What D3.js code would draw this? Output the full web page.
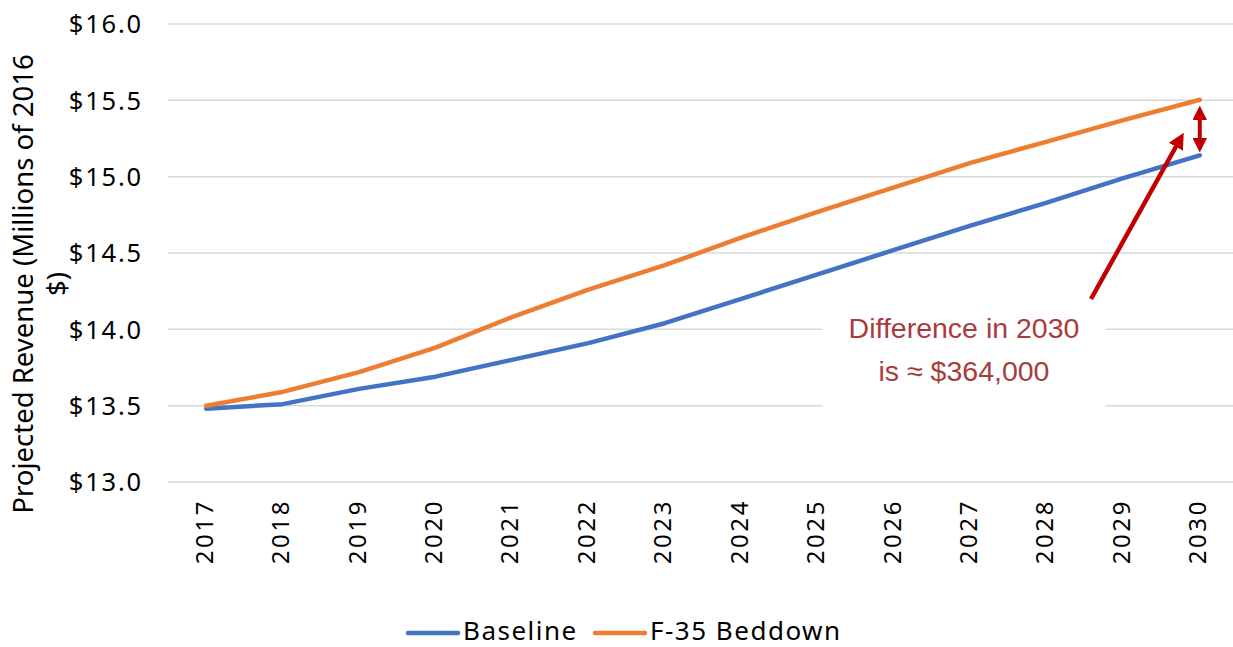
<!DOCTYPE html>
<html>
<head>
<meta charset="utf-8">
<script src="https://cdn.jsdelivr.net/npm/d3@7/dist/d3.min.js"></script>
<style>
  html, body { margin: 0; padding: 0; background: #fff; }
  svg { display: block; }
</style>
</head>
<body>
<svg id="chart" width="1233" height="647"></svg>
<script>
// Projected revenue, millions of 2016 dollars
const years = ["2017","2018","2019","2020","2021","2022","2023","2024","2025","2026","2027","2028","2029","2030"];
const baseline = [13.48, 13.51, 13.61, 13.69, 13.80, 13.91, 14.04, 14.20, 14.36, 14.52, 14.68, 14.83, 14.99, 15.14];
const beddown  = [13.50, 13.59, 13.72, 13.88, 14.08, 14.26, 14.42, 14.60, 14.77, 14.93, 15.09, 15.23, 15.37, 15.504];
const yTicks = [13.0, 13.5, 14.0, 14.5, 15.0, 15.5, 16.0];
const seriesNames = ["Baseline", "F-35 Beddown"];
const seriesColors = ["#4472C4", "#ED7D31"];
const noteLines = ["Difference in 2030", "is \u2248 $364,000"];

const svg = d3.select("#chart");
const plotLeft = 168, plotRight = 1238, plotTop = 24, plotBottom = 482;
const axisFont = "'Noto Sans', 'Open Sans', sans-serif";

const x = d3.scalePoint().domain(years).range([plotLeft, plotRight]).padding(0.5);
const y = d3.scaleLinear().domain([13, 16]).range([plotBottom, plotTop]);

// horizontal gridlines
svg.append("g").selectAll("line").data(yTicks).join("line")
  .attr("x1", plotLeft).attr("x2", plotRight)
  .attr("y1", d => y(d)).attr("y2", d => y(d))
  .attr("stroke", "#d9d9d9").attr("stroke-width", 1.5);

// y tick labels
svg.append("g").selectAll("text").data(yTicks).join("text")
  .attr("x", 143).attr("y", d => y(d)).attr("dy", "0.36em")
  .attr("text-anchor", "end")
  .attr("font-family", axisFont).attr("font-size", 25.5).attr("letter-spacing", 1.8)
  .attr("fill", "#000")
  .text(d => "$" + d.toFixed(1));

// x tick labels, rotated
svg.append("g").selectAll("text").data(years).join("text")
  .attr("transform", d => `translate(${x(d)},499) rotate(-90)`)
  .attr("dy", "0.27em")
  .attr("text-anchor", "end")
  .attr("font-family", axisFont).attr("font-size", 24).attr("letter-spacing", 2.6)
  .attr("fill", "#000")
  .text(d => d);

// y axis title (two lines)
const title = svg.append("text")
  .attr("transform", "translate(0,284) rotate(-90)")
  .attr("text-anchor", "middle")
  .attr("font-family", axisFont).attr("font-size", 27.5).attr("fill", "#000");
title.append("tspan").attr("x", 0).attr("y", 33).text("Projected Revenue (Millions of 2016");
title.append("tspan").attr("x", 0).attr("y", 67).text("$)");

// series lines
const line = d3.line().x((d, i) => x(years[i])).y(d => y(d));
[baseline, beddown].forEach((vals, k) => {
  svg.append("path").datum(vals)
    .attr("d", line)
    .attr("fill", "none")
    .attr("stroke", seriesColors[k])
    .attr("stroke-width", 4.5)
    .attr("stroke-linejoin", "round")
    .attr("stroke-linecap", "round");
});

// annotation box and text
svg.append("rect")
  .attr("x", 823).attr("y", 306).attr("width", 282).attr("height", 106)
  .attr("fill", "#fff");
const note = svg.append("text")
  .attr("text-anchor", "middle")
  .attr("font-family", "'Liberation Sans', Arial, sans-serif")
  .attr("font-size", 28.5).attr("fill", "#A83C3C");
note.append("tspan").attr("x", 964).attr("y", 338).text(noteLines[0]);
note.append("tspan").attr("x", 964).attr("y", 381).text(noteLines[1]);

// arrows
const defs = svg.append("defs");
defs.append("marker").attr("id", "head").attr("viewBox", "0 0 10 10")
  .attr("refX", 5).attr("refY", 5).attr("markerWidth", 3.6).attr("markerHeight", 3.6)
  .attr("orient", "auto-start-reverse").attr("markerUnits", "strokeWidth")
  .append("path").attr("d", "M0,0 L10,5 L0,10 Z").attr("fill", "#C00000");

const last = years.length - 1;
const xEnd = x(years[last]);
// pointer from the note toward the gap
svg.append("line")
  .attr("x1", 1091).attr("y1", 299)
  .attr("x2", xEnd - 20).attr("y2", y(beddown[last]) + 40)
  .attr("stroke", "#C00000").attr("stroke-width", 4.5)
  .attr("marker-end", "url(#head)");
// two-headed arrow spanning the 2030 gap
svg.append("line")
  .attr("x1", xEnd).attr("y1", y(beddown[last]) + 13)
  .attr("x2", xEnd).attr("y2", y(baseline[last]) - 10)
  .attr("stroke", "#C00000").attr("stroke-width", 4)
  .attr("marker-start", "url(#head)")
  .attr("marker-end", "url(#head)");

// legend
const legend = svg.append("g");
const legendItems = [{x: 408, tx: 463}, {x: 595, tx: 650}];
seriesNames.forEach((name, k) => {
  const it = legendItems[k];
  legend.append("line")
    .attr("x1", it.x).attr("x2", it.x + 50).attr("y1", 633).attr("y2", 633)
    .attr("stroke", seriesColors[k]).attr("stroke-width", 4.5)
    .attr("stroke-linecap", "round");
  legend.append("text")
    .attr("x", it.tx).attr("y", 640)
    .attr("font-family", axisFont).attr("font-size", 26).attr("letter-spacing", 1.5)
    .attr("fill", "#000")
    .text(name);
});
</script>
</body>
</html>
